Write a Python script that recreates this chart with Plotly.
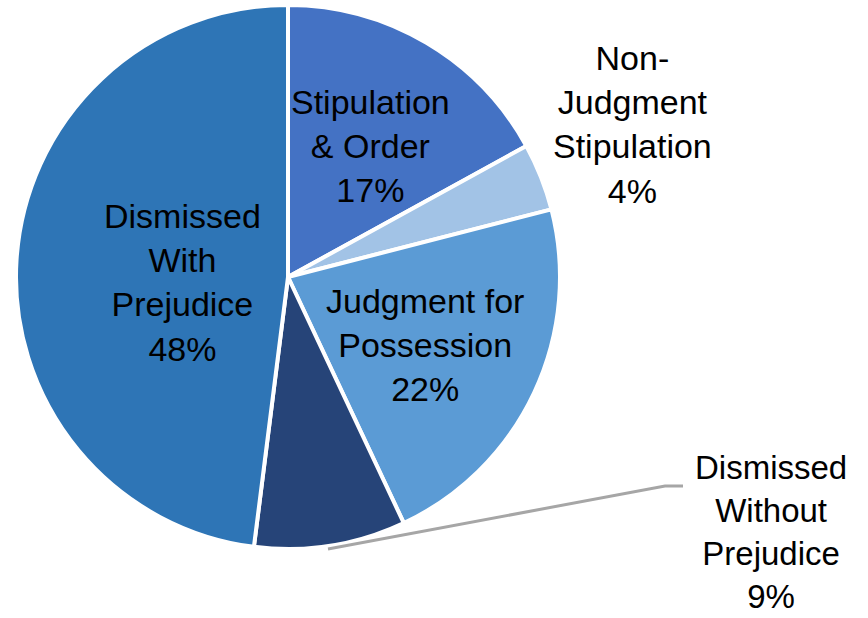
import plotly.graph_objects as go

categories = ["Stipulation & Order", "Non-Judgment Stipulation", "Judgment for Possession",
              "Dismissed Without Prejudice", "Dismissed With Prejudice"]
values = [17, 4, 22, 9, 48]
label_texts = ["Stipulation<br>& Order", "Non-<br>Judgment<br>Stipulation", "Judgment for<br>Possession",
               "Dismissed<br>Without<br>Prejudice", "Dismissed<br>With<br>Prejudice"]
colors = ["#4472C4", "#A2C3E6", "#5B9BD5", "#264478", "#2E75B6"]

W, H = 868, 618
# label centers in pixels and font sizes
label_pos = [(370, 146), (632, 125), (425, 345), (771, 532), (182, 282)]
label_size = [34, 34, 34, 33, 34]

fig = go.Figure(go.Pie(
    labels=categories,
    values=values,
    sort=False,
    direction="clockwise",
    rotation=0,
    marker=dict(colors=colors, line=dict(color="white", width=4)),
    textinfo="none",
    hoverinfo="label+percent",
    showlegend=False,
    domain=dict(x=[16 / W, 560 / W], y=[1 - 552 / H, 1 - 2 / H]),
))

total = sum(values)
for txt, v, (px, py), fs in zip(label_texts, values, label_pos, label_size):
    fig.add_annotation(
        x=px / W, y=1 - py / H, xref="paper", yref="paper",
        text=f"{txt}<br>{round(100 * v / total)}%",
        showarrow=False, xanchor="center", yanchor="middle",
        font=dict(family="Arial, Liberation Sans", size=fs, color="#000000"),
    )

# leader line for Dismissed Without Prejudice
fig.add_shape(type="path", xref="paper", yref="paper",
              path=f"M {328 / W},{1 - 549 / H} L {665 / W},{1 - 486 / H} L {683 / W},{1 - 486 / H}",
              line=dict(color="#A6A6A6", width=3))

fig.update_layout(
    width=W, height=H,
    margin=dict(l=0, r=0, t=0, b=0),
    paper_bgcolor="white", plot_bgcolor="white",
)

fig.write_html("out.html", config={"displayModeBar": False},
               post_script="document.body.style.margin='0';document.body.style.overflow='hidden';")
